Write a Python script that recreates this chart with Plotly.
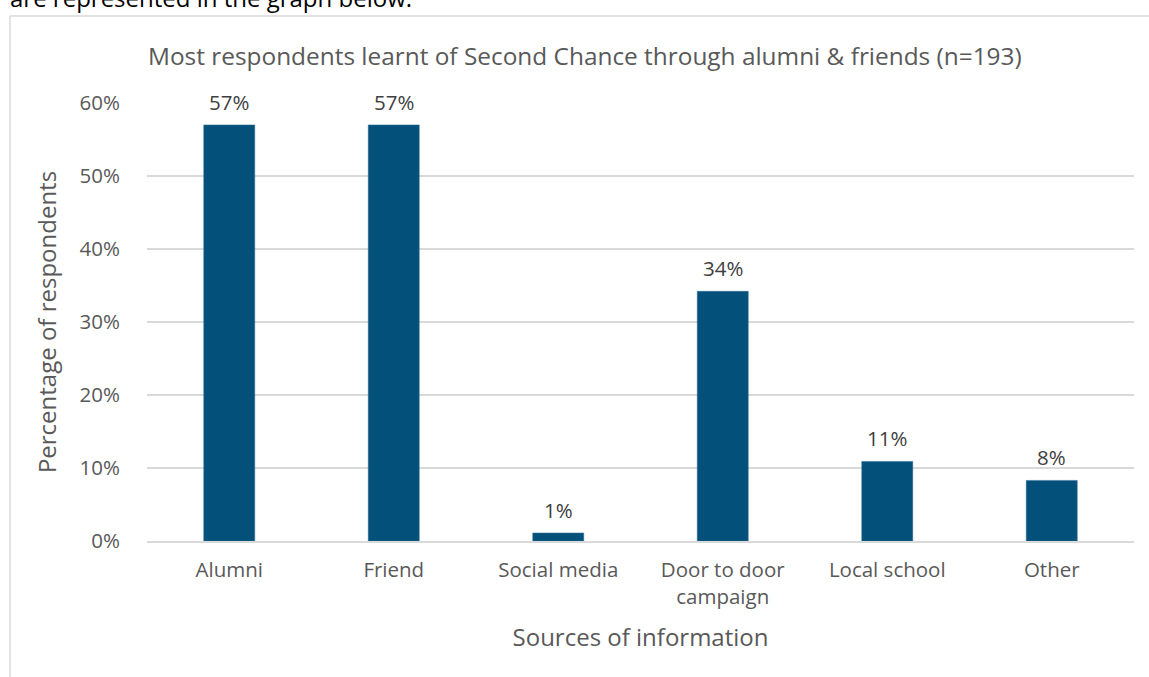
import plotly.graph_objects as go

categories = ["Alumni", "Friend", "Social media", "Door to door<br>campaign", "Local school", "Other"]
values = [57.0, 57.0, 1.1, 34.2, 10.9, 8.3]
labels = ["57%", "57%", "1%", "34%", "11%", "8%"]
ytick_vals = [0, 10, 20, 30, 40, 50, 60]
ytick_text = ["0%", "10%", "20%", "30%", "40%", "50%", "60%"]

FONT = "Open Sans"
GREY = "#595959"
SMALL = 20.5
BIG = 24

W, H = 1149, 677
L, R, T, B = 147, 15, 103, 136
pw, ph = W - L - R, H - T - B

def px_x(p):
    return (p - L) / pw

def px_y(p):
    return (H - B - p) / ph

fig = go.Figure()
fig.add_trace(go.Bar(
    x=categories, y=values,
    marker=dict(color="#03517A", line=dict(color="#2a6f96", width=0.5)),
    width=0.31,
    hoverinfo="skip",
))

for c, v, t in zip(categories, values, labels):
    fig.add_annotation(x=c, y=v, text=t, showarrow=False, yanchor="bottom",
                       yshift=7, font=dict(family=FONT, size=SMALL, color="#404040"))

fig.add_annotation(xref="paper", yref="paper", x=px_x(146), y=px_y(55),
                   xanchor="left", yanchor="middle", showarrow=False,
                   text="Most respondents learnt of Second Chance through alumni &amp; friends (n=193)",
                   font=dict(family=FONT, size=24.4, color=GREY))
fig.add_annotation(xref="paper", yref="paper", x=px_x(8), y=px_y(16),
                   xanchor="left", yanchor="bottom", showarrow=False,
                   text="are represented in the graph below.",
                   font=dict(family=FONT, size=24, color="#000000"))

# chart border
fig.add_shape(type="line", xref="paper", yref="paper",
              x0=px_x(10), x1=px_x(10), y0=px_y(16), y1=px_y(700),
              line=dict(color="#d9d9d9", width=1.5))
fig.add_shape(type="line", xref="paper", yref="paper",
              x0=px_x(10), x1=px_x(1160), y0=px_y(16), y1=px_y(16),
              line=dict(color="#d9d9d9", width=1.5))

fig.update_layout(
    width=W, height=H,
    margin=dict(l=L, r=R, t=T, b=B),
    paper_bgcolor="white", plot_bgcolor="white",
    showlegend=False,
    font=dict(family=FONT, color=GREY),
    xaxis=dict(
        showgrid=False, showline=True, linecolor="#d9d9d9", linewidth=1.5,
        tickfont=dict(family=FONT, size=SMALL, color=GREY),
        ticks="outside", ticklen=10, tickcolor="rgba(0,0,0,0)",
        title=dict(text="Sources of information", font=dict(family=FONT, size=BIG, color=GREY), standoff=20),
        fixedrange=True,
    ),
    yaxis=dict(
        range=[0, 60], tickvals=ytick_vals, ticktext=ytick_text,
        showgrid=True, gridcolor="#d9d9d9", gridwidth=1.5, zeroline=False,
        tickfont=dict(family=FONT, size=SMALL, color=GREY),
        ticks="outside", ticklen=22, tickcolor="rgba(0,0,0,0)",
        title=dict(text="Percentage of respondents", font=dict(family=FONT, size=BIG, color=GREY), standoff=16),
        fixedrange=True,
    ),
)

fig.write_html("out.html")
